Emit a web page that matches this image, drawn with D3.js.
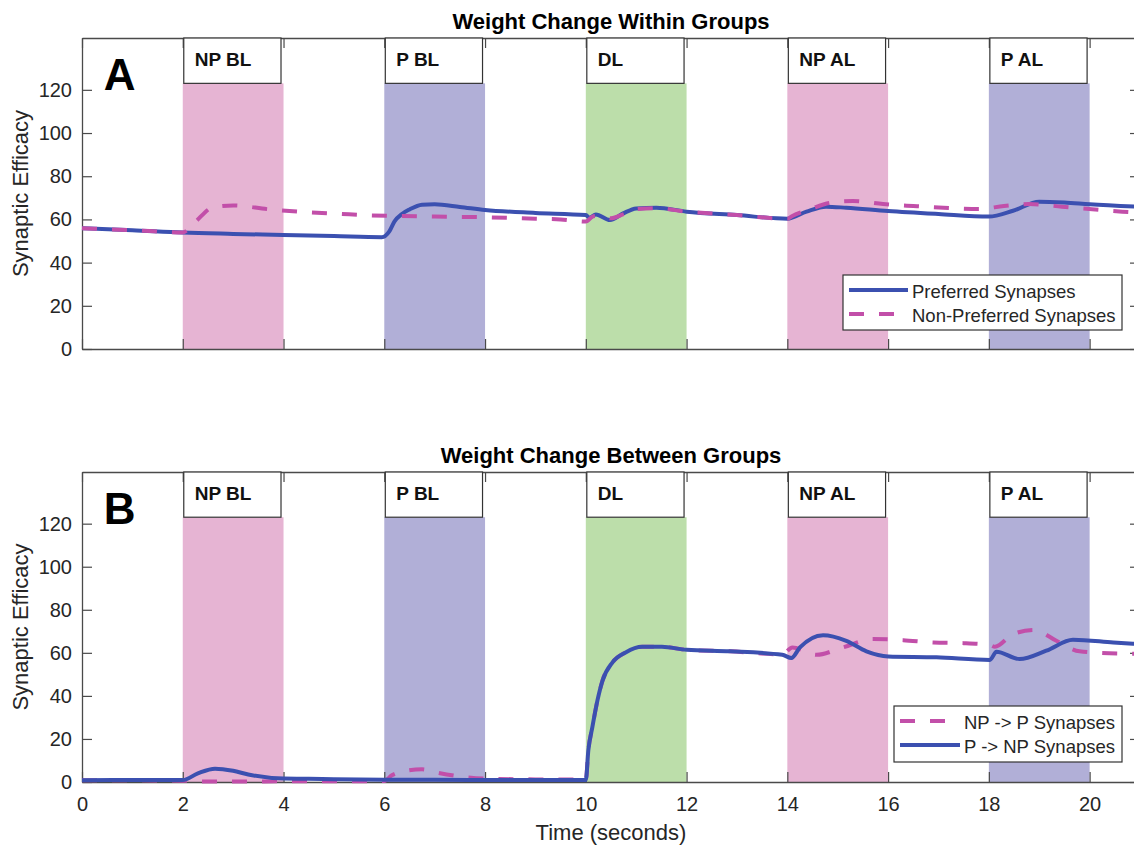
<!DOCTYPE html>
<html>
<head>
<meta charset="utf-8">
<script src="https://cdn.jsdelivr.net/npm/d3@7/dist/d3.min.js"></script>
<style>
  body { margin: 0; background: #fff; }
  svg { display: block; font-family: "Liberation Sans", Arial, sans-serif; }
</style>
</head>
<body>
<svg id="chart" width="1134" height="851"></svg>
<script>
// ---- data ----
const timeTicks = [0, 2, 4, 6, 8, 10, 12, 14, 16, 18, 20];
const efficacyTicks = [0, 20, 40, 60, 80, 100, 120];

const phaseLabels = ["NP BL", "P BL", "DL", "NP AL", "P AL"];
const phaseStart = [2, 6, 10, 14, 18];
const phaseEnd = [4, 8, 12, 16, 20];

// panel A: preferred synapses (solid)
const aPrefTime = [0, 1, 2, 3, 4, 5, 5.95, 6.1, 6.2, 6.35, 6.5, 6.75, 7.0, 7.5, 8, 9, 10, 10.07, 10.2, 10.48, 10.74, 11.0, 11.4, 12, 13, 14, 14.38, 14.77, 15.17, 16, 17, 18, 18.48, 19, 19.5, 20, 21];
const aPrefValue = [55.9, 55, 53.9, 53.3, 52.8, 52.3, 51.8, 54.5, 59, 62.5, 64.6, 66.8, 67, 65.8, 64.4, 63, 62, 60.8, 62.3, 59.7, 62.8, 65.1, 65.4, 63.6, 62, 60.3, 63.6, 65.9, 65.4, 63.9, 62.5, 61.3, 64, 68.2, 67.8, 67, 65.8];

// panel A: non-preferred synapses (dashed)
const aNonTime = [0, 1, 2, 2.25, 2.6, 3, 3.7, 4.5, 5.1, 5.7, 6.2, 7, 8, 9, 9.5, 10, 10.15, 10.3, 10.5, 10.75, 11, 11.4, 12, 13, 14, 14.1, 14.45, 14.85, 15.3, 15.9, 16.5, 17.1, 17.8, 18.3, 18.8, 19.45, 20.05, 20.65, 21];
const aNonValue = [55.9, 55, 54, 58.9, 65.6, 66.5, 64.7, 63.3, 62.6, 61.9, 61.6, 61.3, 61, 60.3, 60, 59, 61.5, 61.7, 60.5, 62.5, 64.8, 65.2, 63.6, 62, 60.3, 61.6, 64.7, 67.7, 68.5, 67.1, 66.2, 65.4, 64.8, 66.2, 67.1, 65.9, 64.7, 63.6, 63.2];

// panel B: NP -> P synapses (dashed)
const bNpTime = [0, 1, 2, 2.5, 3, 4, 5, 6, 6.15, 6.4, 6.75, 7.0, 7.43, 8, 9, 10, 10.05, 10.13, 10.23, 10.33, 10.53, 10.79, 11.12, 11.51, 12, 12.86, 13.9, 14.1, 14.58, 15.1, 15.7, 16.3, 16.9, 17.5, 18.02, 18.12, 18.48, 18.9, 19.34, 19.8, 20.6, 21];
const bNpValue = [0.8, 0.8, 0.6, 0.2, 0.2, 0.3, 0.3, 0.5, 3.1, 5.0, 5.9, 4.6, 2.8, 1.6, 1.2, 1.1, 14.7, 25.5, 37.8, 47, 55.6, 60.2, 62.8, 62.8, 61.4, 60.7, 59.3, 62.5, 59.1, 62.5, 66.4, 65.9, 64.8, 64.5, 63.6, 62.8, 68.7, 70.6, 65.6, 60.7, 59.7, 59.6];

// panel B: P -> NP synapses (solid)
const bPTime = [0, 1, 2, 2.3, 2.64, 3.0, 3.3, 4, 4.5, 5, 6, 7, 8, 9, 10, 10.05, 10.13, 10.23, 10.33, 10.53, 10.79, 11.12, 11.51, 12, 12.86, 13.9, 14.08, 14.25, 14.71, 15.17, 15.57, 16, 16.96, 18.02, 18.15, 18.61, 19.14, 19.67, 20.47, 21];
const bPValue = [0.8, 0.9, 0.9, 4.0, 6.2, 5.2, 3.5, 1.6, 1.5, 1.3, 1.1, 1.0, 0.9, 0.9, 0.9, 14.7, 25.5, 37.8, 47, 55.6, 60.2, 62.8, 62.8, 61.4, 60.7, 59.1, 57.6, 62.5, 68.2, 65.6, 60.7, 58.3, 57.9, 56.7, 60.5, 57.1, 61, 66.1, 64.8, 64];

// ---- styles ----
const phaseColor = { "NP": "#e6b4d3", "P": "#b1afd7", "DL": "#bcdeaa" };
const blue = "#3b50b0";
const pink = "#c24fa9";
const axisColor = "#4a4a4a";
const textColor = "#262626";

const svg = d3.select("#chart");
const x = d3.scaleLinear().domain([0, 21]).range([82, 1140]);

function zip(ts, vs) {
  return ts.map((t, i) => ({ t: t, v: vs[i] }));
}

function drawPanel(spec) {
  let { top, bottom, title, letter, series, legend, showTimeLabels } = spec;
  let y = d3.scaleLinear().domain([0, 144]).range([bottom, top]);
  let g = svg.append("g");

  // phase bands
  phaseLabels.forEach((label, i) => {
    let kind = label.split(" ")[0];
    g.append("rect")
      .attr("x", x(phaseStart[i]))
      .attr("y", y(123))
      .attr("width", x(phaseEnd[i]) - x(phaseStart[i]))
      .attr("height", y(0) - y(123))
      .attr("fill", phaseColor[kind]);
  });

  // axes, ticks pointing inward
  let bottomAxis = d3.axisBottom(x).tickValues(timeTicks).tickSize(-10).tickSizeOuter(0).tickPadding(15);
  if (!showTimeLabels) bottomAxis.tickFormat("");
  g.append("g").attr("transform", `translate(0,${bottom})`).call(bottomAxis);
  g.append("g").attr("transform", `translate(0,${top})`)
    .call(d3.axisTop(x).tickValues(timeTicks).tickSize(-10).tickSizeOuter(0).tickFormat(""));
  g.append("g").attr("transform", `translate(${x.range()[0]},0)`)
    .call(d3.axisLeft(y).tickValues(efficacyTicks).tickSize(-10).tickSizeOuter(0).tickPadding(10));
  g.append("g").attr("transform", `translate(${x.range()[1]},0)`)
    .call(d3.axisRight(y).tickValues(efficacyTicks).tickSize(-10).tickSizeOuter(0).tickFormat(""));

  g.selectAll(".domain").attr("stroke", axisColor).attr("stroke-width", 1.3);
  g.selectAll(".tick line").attr("stroke", axisColor).attr("stroke-width", 1.2);
  g.selectAll(".tick text").attr("fill", textColor).style("font-size", "20px")
    .style("font-family", "'Liberation Sans', Arial, sans-serif");

  // curves
  let line = d3.line().x((d) => x(d.t)).y((d) => y(d.v)).curve(d3.curveMonotoneX);
  series.forEach((s) => {
    g.append("path")
      .datum(zip(s.time, s.value))
      .attr("d", line)
      .attr("fill", "none")
      .attr("stroke", s.color)
      .attr("stroke-width", 4)
      .attr("stroke-dasharray", s.dashed ? "15,15" : null)
      .attr("stroke-linejoin", "round");
  });

  // phase label boxes
  phaseLabels.forEach((label, i) => {
    g.append("rect")
      .attr("x", x(phaseStart[i] + 0.02))
      .attr("y", y(144))
      .attr("width", x(phaseEnd[i] - 0.05) - x(phaseStart[i] + 0.02))
      .attr("height", y(123) - y(144))
      .attr("fill", "#fff")
      .attr("stroke", "#333")
      .attr("stroke-width", 1.2);
    g.append("text")
      .attr("x", x(phaseStart[i] + 0.02) + 11)
      .attr("y", y(131.2))
      .attr("font-size", 19)
      .attr("font-weight", "bold")
      .attr("fill", "#111")
      .text(label);
  });

  // panel letter
  g.append("text")
    .attr("x", x(0.43))
    .attr("y", y(120))
    .attr("font-size", 44)
    .attr("font-weight", "bold")
    .attr("fill", "#000")
    .text(letter);

  // title
  g.append("text")
    .attr("x", (x.range()[0] + x.range()[1]) / 2)
    .attr("y", top - 9)
    .attr("text-anchor", "middle")
    .attr("font-size", 22)
    .attr("font-weight", "bold")
    .attr("fill", "#000")
    .text(title);

  // y label
  g.append("text")
    .attr("transform", `translate(28,${(top + bottom) / 2}) rotate(-90)`)
    .attr("text-anchor", "middle")
    .attr("font-size", 22)
    .attr("fill", textColor)
    .text("Synaptic Efficacy");

  // legend
  let lg = g.append("g");
  lg.append("rect")
    .attr("x", legend.x).attr("y", legend.y)
    .attr("width", legend.w).attr("height", legend.h)
    .attr("fill", "#fff").attr("stroke", "#333").attr("stroke-width", 1.2);
  legend.items.forEach((item, i) => {
    let ly = legend.y + 15 + i * 24;
    lg.append("line")
      .attr("x1", legend.x + 6).attr("x2", legend.x + legend.sample)
      .attr("y1", ly).attr("y2", ly)
      .attr("stroke", item.color).attr("stroke-width", 4)
      .attr("stroke-dasharray", item.dashed ? "15,15" : null);
    lg.append("text")
      .attr("x", legend.x + legend.sample + 4)
      .attr("y", ly + 7.5)
      .attr("font-size", 18.5)
      .attr("fill", textColor)
      .text(item.label);
  });
}

drawPanel({
  top: 38, bottom: 349,
  title: "Weight Change Within Groups",
  letter: "A",
  showTimeLabels: false,
  series: [
    { time: aPrefTime, value: aPrefValue, color: blue, dashed: false },
    { time: aNonTime, value: aNonValue, color: pink, dashed: true }
  ],
  legend: {
    x: 843, y: 275, w: 279, h: 55, sample: 65,
    items: [
      { label: "Preferred Synapses", color: blue, dashed: false },
      { label: "Non-Preferred Synapses", color: pink, dashed: true }
    ]
  }
});

drawPanel({
  top: 472, bottom: 782,
  title: "Weight Change Between Groups",
  letter: "B",
  showTimeLabels: true,
  series: [
    { time: bNpTime, value: bNpValue, color: pink, dashed: true },
    { time: bPTime, value: bPValue, color: blue, dashed: false }
  ],
  legend: {
    x: 894, y: 706, w: 228, h: 56, sample: 66,
    items: [
      { label: "NP -> P Synapses", color: pink, dashed: true },
      { label: "P -> NP Synapses", color: blue, dashed: false }
    ]
  }
});

// x label
svg.append("text")
  .attr("x", (x.range()[0] + x.range()[1]) / 2)
  .attr("y", 840)
  .attr("text-anchor", "middle")
  .attr("font-size", 22)
  .attr("fill", textColor)
  .text("Time (seconds)");
</script>
</body>
</html>
